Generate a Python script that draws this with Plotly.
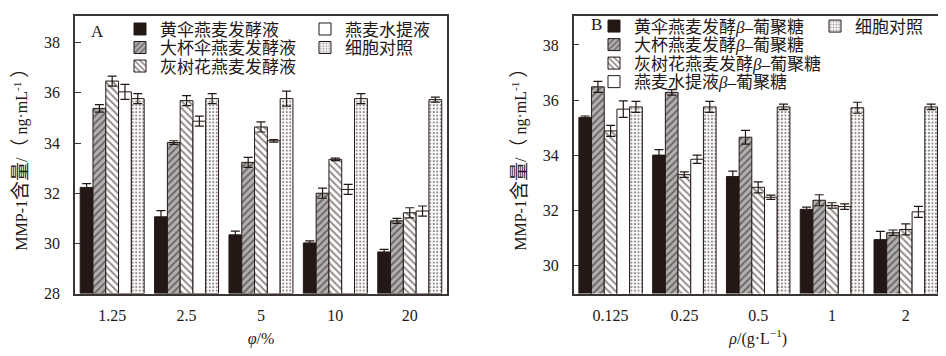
import plotly.graph_objects as go

# ---- Data ----
cats_a = ["1.25", "2.5", "5", "10", "20"]
names_a = ["黄伞燕麦发酵液", "大杯伞燕麦发酵液", "灰树花燕麦发酵液", "燕麦水提液", "细胞对照"]
a_huangsan = [32.23, 31.06, 30.34, 30.02, 29.66]
a_dabei = [35.38, 34.02, 33.23, 32.00, 30.90]
a_huishu = [36.47, 35.69, 34.64, 33.35, 31.22]
a_water = [36.04, 34.87, 34.09, 32.15, 31.29]
a_ctrl = [35.77, 35.77, 35.77, 35.77, 35.73]
a_huangsan_err = [0.15, 0.25, 0.15, 0.08, 0.10]
a_dabei_err = [0.15, 0.07, 0.20, 0.20, 0.10]
a_huishu_err = [0.20, 0.20, 0.20, 0.05, 0.20]
a_water_err = [0.30, 0.20, 0.05, 0.20, 0.20]
a_ctrl_err = [0.20, 0.20, 0.30, 0.20, 0.10]

cats_b = ["0.125", "0.25", "0.5", "1", "2"]
names_b = ["黄伞燕麦发酵<i>β</i>–葡聚糖", "大杯燕麦发酵<i>β</i>–葡聚糖", "灰树花燕麦发酵<i>β</i>–葡聚糖",
           "燕麦水提液<i>β</i>–葡聚糖", "细胞对照"]
b_huangsan = [35.37, 34.00, 33.22, 32.03, 30.93]
b_dabei = [36.48, 36.28, 34.65, 32.36, 31.18]
b_huishu = [34.88, 33.29, 32.83, 32.17, 31.30]
b_water = [35.67, 33.85, 32.47, 32.13, 31.94]
b_ctrl = [35.75, 35.75, 35.75, 35.72, 35.75]
b_huangsan_err = [0.05, 0.20, 0.20, 0.08, 0.30]
b_dabei_err = [0.20, 0.10, 0.25, 0.20, 0.10]
b_huishu_err = [0.20, 0.10, 0.20, 0.10, 0.20]
b_water_err = [0.30, 0.15, 0.08, 0.10, 0.20]
b_ctrl_err = [0.20, 0.20, 0.10, 0.20, 0.10]

# ---- Styles ----
DARK = "#231815"
LINE = "#3a3433"
styles = [
    dict(color=DARK, pattern=dict(shape="")),
    dict(color="#b0b0b0", pattern=dict(shape="/", fgcolor=DARK, bgcolor="#b0b0b0", size=5, solidity=0.35)),
    dict(color="white", pattern=dict(shape="\\", fgcolor=DARK, bgcolor="white", size=5, solidity=0.4)),
    dict(color="white", pattern=dict(shape="")),
    dict(color="white", pattern=dict(shape=".", fgcolor=DARK, bgcolor="white", size=3.5, solidity=0.3)),
]

W, H = 946, 356
# legend item positions (pixel, left of swatch area, center y)
leg_pos_a = [(112, 22), (112, 41), (112, 60), (297, 22), (297, 41)]
leg_pos_b = [(586, 19), (586, 38), (586, 57), (586, 76), (807, 19)]

fig = go.Figure()

series_a = [(a_huangsan, a_huangsan_err), (a_dabei, a_dabei_err), (a_huishu, a_huishu_err),
            (a_water, a_water_err), (a_ctrl, a_ctrl_err)]
series_b = [(b_huangsan, b_huangsan_err), (b_dabei, b_dabei_err), (b_huishu, b_huishu_err),
            (b_water, b_water_err), (b_ctrl, b_ctrl_err)]

FONT = "Liberation Serif, Noto Sans CJK SC"
legend_layouts = {}
k = 0
for panel, series, names, cats, xa, ya, pos in [
    ("A", series_a, names_a, cats_a, "x", "y", leg_pos_a),
    ("B", series_b, names_b, cats_b, "x2", "y2", leg_pos_b),
]:
    for i, (vals, errs) in enumerate(series):
        k += 1
        lname = "legend" if k == 1 else f"legend{k}"
        st = styles[i]
        fig.add_trace(go.Bar(
            x=cats, y=[v - 28 for v in vals], base=28, name=names[i],
            marker=dict(color=st["color"], pattern=st["pattern"], line=dict(color=DARK, width=1)),
            error_y=dict(type="data", array=errs, color=DARK, thickness=1.2, width=4.5),
            xaxis=xa, yaxis=ya, legend=lname,
            hovertemplate="%{x}: %{y}<extra></extra>",
        ))
        px, py = pos[i]
        legend_layouts[lname] = dict(
            x=px / W, y=1 - py / H, xanchor="left", yanchor="middle",
            bgcolor="rgba(0,0,0,0)", font=dict(family=FONT, size=17, color=DARK),
            tracegroupgap=0,
        )

tickfont = dict(family=FONT, size=16, color=DARK)
axis_common = dict(showline=True, linecolor=LINE, linewidth=1.5, mirror=True,
                   showgrid=False, zeroline=False, tickfont=tickfont)

CJK = "<span style='font-size:19px'>"
ytitle = f"MMP-1{CJK}含量</span>/{CJK}（</span> ng·mL<sup>-1</sup> {CJK}）</span>"
fig.update_layout(
    width=W, height=H,
    margin=dict(l=0, r=0, t=0, b=0),
    paper_bgcolor="white", plot_bgcolor="white",
    barmode="group", bargap=0.14, bargroupgap=0.0,
    font=dict(family=FONT, color=DARK),
    xaxis=dict(domain=[0.0708, 0.464], anchor="y", ticks="", ticklabelstandoff=6, **axis_common,
               title=dict(text="<i>φ</i>/%", font=dict(family=FONT, size=16), standoff=10)),
    yaxis=dict(domain=[0.177, 0.9775], anchor="x", range=[28, 39.07], tickvals=[28, 30, 32, 34, 36, 38],
               ticks="inside", ticklen=6, tickwidth=1.2, tickcolor=LINE, ticklabelstandoff=10, **axis_common,
               title=dict(text=ytitle, font=dict(family=FONT, size=16), standoff=12)),
    xaxis2=dict(domain=[0.598, 0.988], anchor="y2", ticks="", ticklabelstandoff=6, **axis_common,
                title=dict(text="<i>ρ</i>/(g·L<sup>−1</sup>)", font=dict(family=FONT, size=16), standoff=10)),
    yaxis2=dict(domain=[0.177, 0.9775], anchor="x2", range=[28.97, 39.06], tickvals=[30, 32, 34, 36, 38],
                ticks="inside", ticklen=6, tickwidth=1.2, tickcolor=LINE, ticklabelstandoff=10, **axis_common,
                title=dict(text=ytitle, font=dict(family=FONT, size=16), standoff=12)),
    showlegend=True,
    **legend_layouts,
)

fig.add_annotation(text="A", x=89 / W, y=1 - 24 / H, xref="paper", yref="paper", showarrow=False,
                   xanchor="center", yanchor="middle", font=dict(family=FONT, size=17, color=DARK))
fig.add_annotation(text="B", x=588 / W, y=1 - 17 / H, xref="paper", yref="paper", showarrow=False,
                   xanchor="center", yanchor="middle", font=dict(family=FONT, size=17, color=DARK))

fig.write_html("out.html")
